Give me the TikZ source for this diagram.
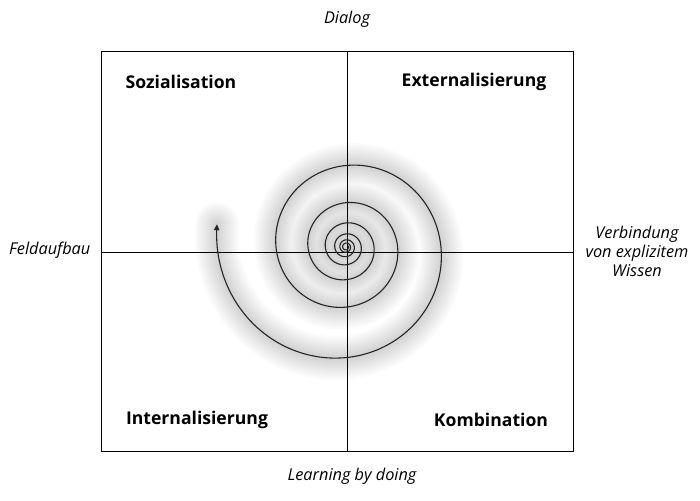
\documentclass[tikz,border=0pt]{standalone}
\usepackage{fontspec}
\setmainfont{Open Sans}
\usetikzlibrary{arrows.meta}
\tikzset{
  quadlabel/.style={font=\fontsize{17.6}{20}\selectfont\bfseries, inner sep=0pt, text=black},
  sidelabel/.style={font=\fontsize{16.3}{19}\selectfont\itshape, inner sep=0pt, text=black},
  frame/.style={line width=1pt, black},
  spiralline/.style={line width=1.1pt, black!85},
}
\newcommand{\spR}[1]{(70*exp(0.001697*(180-(#1))))}
\begin{document}
\begin{tikzpicture}[x=1pt,y=-1pt]
\useasboundingbox (0,0) rectangle (700,500);
\fill[white] (0,0) rectangle (700,500);
% glow
\foreach \w in {44,40,...,4}{
  \draw[line width=\w pt, black, opacity=0.017, line join=round, line cap=round]
    plot[domain=2200:-190, samples=700, smooth] ({346+\spR{\x}*cos(\x)}, {247-\spR{\x}*sin(\x)});
}
% frame and cross
\coordinate (tl) at (101,52);
\coordinate (br) at (573,451);
\coordinate (vt) at (347,52);
\coordinate (vb) at (347,451);
\coordinate (hl) at (101,252);
\coordinate (hr) at (573,252);
\draw[frame] (tl) rectangle (br);
\draw[frame] (vt) -- (vb);
\draw[frame] (hl) -- (hr);
% spiral
\draw[spiralline, -{Triangle[width=5.5pt,length=6pt]}]
  plot[domain=2200:-190, samples=900, smooth] ({346+\spR{\x}*cos(\x)}, {247-\spR{\x}*sin(\x)});
% labels
\node[quadlabel] (soz) at (181,82) {Sozialisation};
\node[quadlabel] (ext) at (474,82) {Externalisierung};
\node[quadlabel] (int) at (197,420) {Internalisierung};
\node[quadlabel] (kom) at (491,420) {Kombination};
\node[sidelabel] (dia) at (347,19) {Dialog};
\node[sidelabel, anchor=west] (fel) at (9,250) {Feldaufbau};
\node[sidelabel, align=center] (ver) at (637,251) {Verbindung\\von explizitem\\Wissen};
\node[sidelabel] (lea) at (352,476) {Learning by doing};
\end{tikzpicture}
\end{document}
